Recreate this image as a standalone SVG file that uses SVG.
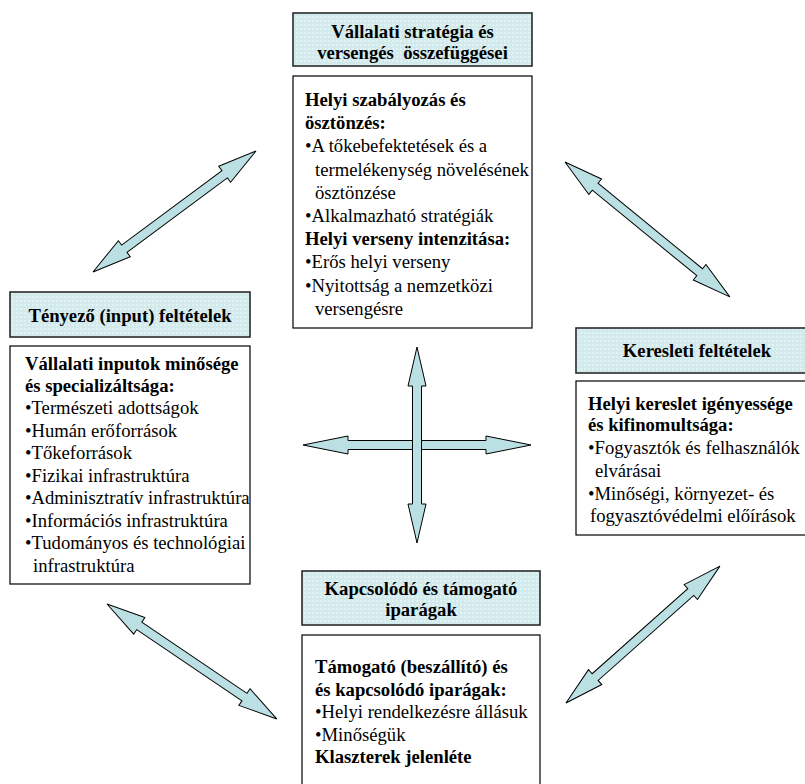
<svg xmlns="http://www.w3.org/2000/svg" width="805" height="784" viewBox="0 0 805 784">
<style>
text{font-family:"Liberation Serif","Times New Roman",serif;font-size:18.67px;fill:#000;}
.b{font-weight:bold;}
.c{text-anchor:middle;font-weight:bold;}
.hdr{fill:url(#dots);stroke:#2a2a2a;stroke-width:1.6;}
.box{fill:#fff;stroke:#000;stroke-width:1.2;}
.arr{fill:#bbe0e3;stroke:#000;stroke-width:1;stroke-linejoin:miter;}
</style>
<defs>
<pattern id="dots" width="4" height="4" patternUnits="userSpaceOnUse">
<rect width="4" height="4" fill="#d2eaec"/>
<rect width="2" height="2" fill="#e2f2f3"/>
</pattern>
</defs>
<rect width="805" height="784" fill="#fff"/>

<g id="connectors">
<path class="arr" transform="translate(93,272) rotate(-36.6)" d="M0,0 L39,-10 L39,-4.5 L164,-4.5 L164,-10 L203,0 L164,10 L164,4.5 L39,4.5 L39,10 Z"/>
<path class="arr" transform="translate(565,162) rotate(39.3)" d="M0,0 L39,-10 L39,-4.5 L174,-4.5 L174,-10 L213,0 L174,10 L174,4.5 L39,4.5 L39,10 Z"/>
<path class="arr" transform="translate(107,604) rotate(34.1)" d="M0,0 L39,-10 L39,-4.5 L166,-4.5 L166,-10 L205,0 L166,10 L166,4.5 L39,4.5 L39,10 Z"/>
<path class="arr" transform="translate(566,703) rotate(-41.65)" d="M0,0 L39,-10 L39,-4.5 L167,-4.5 L167,-10 L206,0 L167,10 L167,4.5 L39,4.5 L39,10 Z"/>
<path class="arr" transform="translate(303,445)" d="M0,0 L45,-9 L45,-4.5 L183,-4.5 L183,-9 L228,0 L183,9 L183,4.5 L45,4.5 L45,9 Z"/>
<path class="arr" transform="translate(417,347) rotate(90)" d="M0,0 L39,-9 L39,-4.5 L157,-4.5 L157,-9 L196,0 L157,9 L157,4.5 L39,4.5 L39,9 Z"/>
</g>

<g id="strategy">
<rect class="hdr" x="293" y="13" width="239" height="53"/>
<text class="c" x="412.5" y="38">Vállalati stratégia és</text>
<text class="c" x="412.5" y="59" style="white-space:pre">versengés  összefüggései</text>
<rect class="box" x="293" y="76" width="239" height="252"/>
<text class="b" x="305" y="106">Helyi szabályozás és</text>
<text class="b" x="305" y="129">ösztönzés:</text>
<text x="305" y="152">•A tőkebefektetések és a</text>
<text x="315" y="175.5">termelékenység növelésének</text>
<text x="315" y="199">ösztönzése</text>
<text x="305" y="222">•Alkalmazható stratégiák</text>
<text class="b" x="305" y="245">Helyi verseny intenzitása:</text>
<text x="305" y="268">•Erős helyi verseny</text>
<text x="305" y="291.5">•Nyitottság a nemzetközi</text>
<text x="315" y="315">versengésre</text>
</g>

<g id="factor">
<rect class="hdr" x="10" y="292" width="240" height="45"/>
<text class="c" x="130" y="322">Tényező (input) feltételek</text>
<rect class="box" x="10" y="346" width="240" height="238"/>
<text class="b" x="25" y="370">Vállalati inputok minősége</text>
<text class="b" x="25" y="392">és specializáltsága:</text>
<text x="25" y="414">•Természeti adottságok</text>
<text x="25" y="437">•Humán erőforrások</text>
<text x="25" y="459">•Tőkeforrások</text>
<text x="25" y="482">•Fizikai infrastruktúra</text>
<text x="25" y="504">•Adminisztratív infrastruktúra</text>
<text x="25" y="527">•Információs infrastruktúra</text>
<text x="25" y="549">•Tudományos és technológiai</text>
<text x="33" y="572">infrastruktúra</text>
</g>

<g id="demand">
<rect class="hdr" x="576" y="328" width="242" height="45"/>
<text class="c" x="697" y="357">Keresleti feltételek</text>
<rect class="box" x="576" y="381" width="242" height="154"/>
<text class="b" x="588" y="410">Helyi kereslet igényessége</text>
<text class="b" x="588" y="431">és kifinomultsága:</text>
<text x="588" y="454">•Fogyasztók és felhasználók</text>
<text x="595" y="477">elvárásai</text>
<text x="588" y="500">•Minőségi, környezet- és</text>
<text x="590" y="522">fogyasztóvédelmi előírások</text>
</g>

<g id="related">
<rect class="hdr" x="302" y="571" width="238" height="54"/>
<text class="c" x="421" y="595">Kapcsolódó és támogató</text>
<text class="c" x="421" y="616">iparágak</text>
<rect class="box" x="302" y="635" width="238" height="152"/>
<text class="b" x="315" y="673">Támogató (beszállító) és</text>
<text class="b" x="315" y="696">és kapcsolódó iparágak:</text>
<text x="315" y="718">•Helyi rendelkezésre állásuk</text>
<text x="315" y="741">•Minőségük</text>
<text class="b" x="315" y="763">Klaszterek jelenléte</text>
</g>
</svg>
